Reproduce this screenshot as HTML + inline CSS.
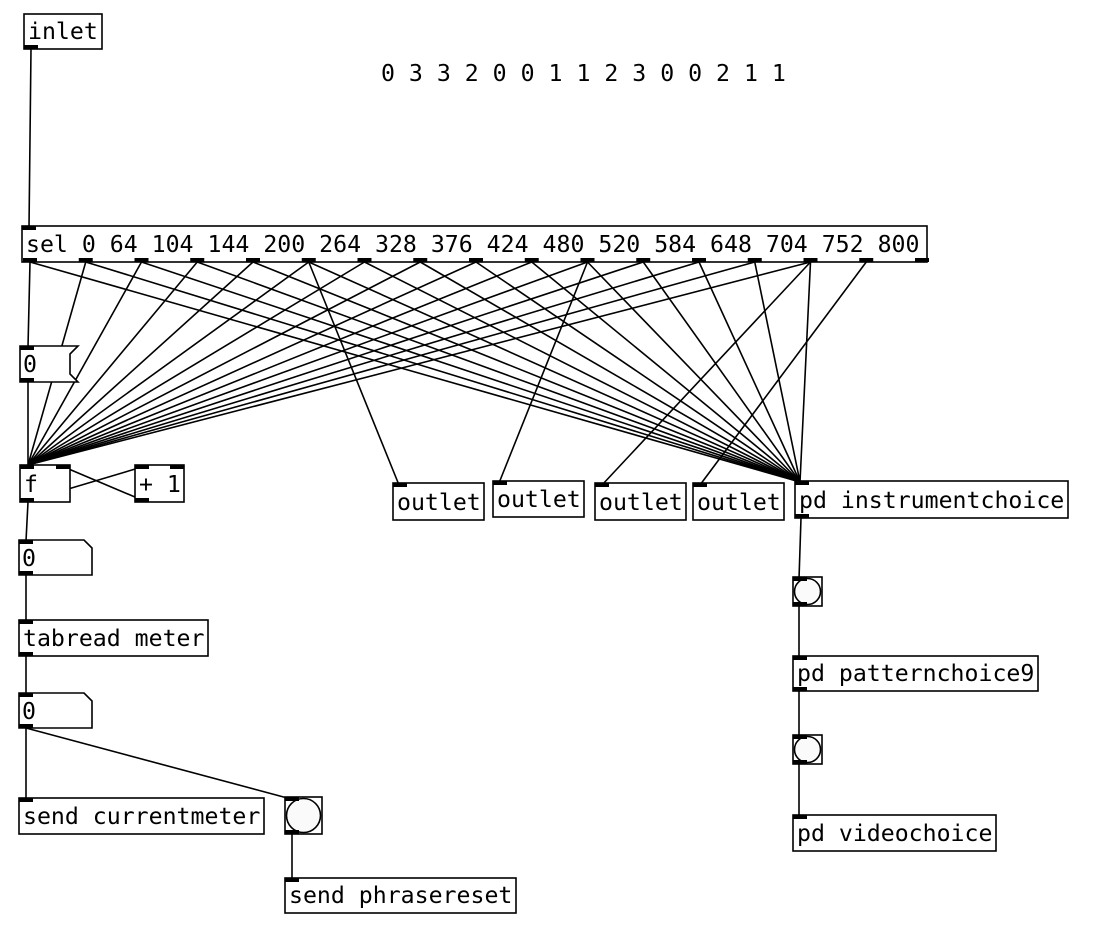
<!DOCTYPE html>
<html><head><meta charset="utf-8"><style>
html,body{margin:0;padding:0;background:#fff}
svg{display:block}
text{font-family:"DejaVu Sans Mono","Liberation Mono",monospace;font-size:23.2px;fill:#000}
</style></head><body>
<svg id="s" width="1118" height="930" xmlns="http://www.w3.org/2000/svg">
<g id="lines" stroke="#000" stroke-width="1.6" fill="none"></g>
<g id="boxes" stroke="#000" stroke-width="1.6" fill="#fff"></g>
<g id="tabs" fill="#000"></g>
<g id="txt"></g>
</svg>
<script>
const L=document.getElementById('lines'),B=document.getElementById('boxes'),T=document.getElementById('tabs'),X=document.getElementById('txt');
const NS='http://www.w3.org/2000/svg';
function el(p,n,a){const e=document.createElementNS(NS,n);for(const k in a)e.setAttribute(k,a[k]);p.appendChild(e);return e;}
function line(x1,y1,x2,y2){el(L,'line',{x1,y1,x2,y2});}
function tab(x,y){el(T,'rect',{x,y,width:14,height:4});}
function txt(x,y,s){const t=el(X,'text',{x,y});t.textContent=s;}
function box(x1,y1,x2,y2,s,ins,outs){
  el(B,'rect',{x:x1,y:y1,width:x2-x1,height:y2-y1});
  (ins||[0]).forEach(i=>tab(i===0?x1:i,y1));
  (outs||[0]).forEach(o=>tab(o===0?x1:o,y2-4));
  if(s)txt(x1+4,y2-10,s);
}
function numbox(x1,y1,x2,y2){
  el(B,'path',{d:`M${x1} ${y1}H${x2-8}L${x2} ${y1+8}V${y2}H${x1}Z`});
  tab(x1,y1);tab(x1,y2-4);txt(x1+3,y2-9,'0');
}
function bang(x1,y1,x2,y2){
  el(B,'rect',{x:x1,y:y1,width:x2-x1,height:y2-y1});
  el(B,'circle',{cx:(x1+x2)/2,cy:(y1+y2)/2,r:(x2-x1)/2-1.5,fill:'#fafafa'});
  tab(x1,y1);tab(x1,y2-4);
}
const outs=[];for(let i=0;i<17;i++)outs.push(23+i*55.75);
const oc=outs.map(o=>o+7);
const PD=[800,482],F=[28,465];
line(31,49,29,228);
line(oc[0],262,28,347);
line(28,382,28,466);
for(let i=0;i<=14;i++)line(oc[i],262,PD[0],PD[1]);
for(let i=1;i<=14;i++)line(oc[i],262,F[0],F[1]);
line(oc[5],262,399,485);
line(oc[10],262,499,483);
line(oc[14],262,602,485);
line(oc[15],262,700,485);
line(28,501,142,467);
line(64,467,142,500);
line(28,502,26,541);
line(26,575,26,621);
line(26,656,26,694);
line(26,728,26,799);
line(26,728,291,799);
line(292,834,292,879);
line(801,518,799,579);
line(799,606,799,657);
line(799,691,799,736);
line(799,764,799,816);
box(24,14,102,49,'inlet',[],[0]);
txt(381,81,'0 3 3 2 0 0 1 1 2 3 0 0 2 1 1');
box(22,226,927,262,'sel 0 64 104 144 200 264 328 376 424 480 520 584 648 704 752 800',[0],outs);
el(B,'path',{d:'M20 346H78L70 354V374L78 382H20Z'});tab(20,346);tab(20,378);txt(23,372,'0');
box(20,465,70,502,'f',[0,56],[0]);
box(135,465,184,502,'+ 1',[0,170],[0]);
numbox(19,540,92,575);
box(19,620,208,656,'tabread meter');
numbox(19,693,92,728);
box(19,798,264,834,'send currentmeter',[0],[]);
bang(285,797,322,834);
box(285,878,516,913,'send phrasereset',[0],[]);
box(393,483,484,520,'outlet',[0],[]);
box(493,481,584,517,'outlet',[0],[]);
box(595,483,686,520,'outlet',[0],[]);
box(693,483,784,520,'outlet',[0],[]);
box(795,481,1068,518,'pd instrumentchoice',[0],[0]);
bang(793,577,822,606);
box(793,656,1038,691,'pd patternchoice9',[0],[0]);
bang(793,735,822,764);
box(793,815,996,851,'pd videochoice',[0],[]);
</script>
</body></html>
